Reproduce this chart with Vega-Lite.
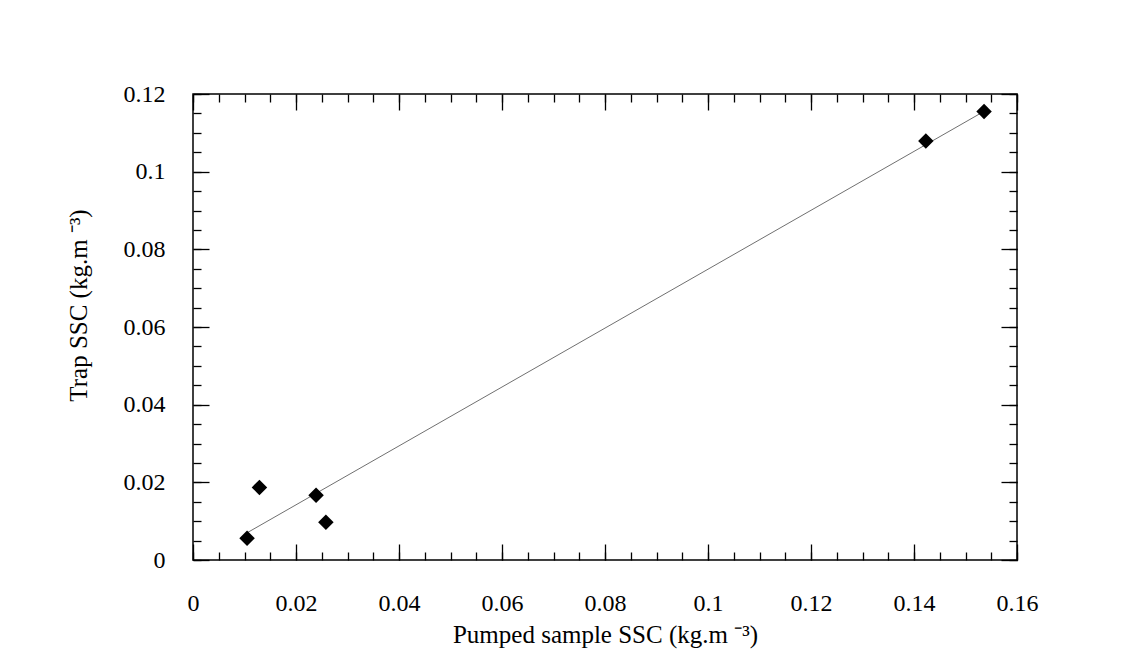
{
  "$schema": "https://vega.github.io/schema/vega-lite/v6.json",
  "width": 824,
  "height": 466,
  "autosize": "none",
  "padding": {"left": 193, "top": 94, "right": 118, "bottom": 112},
  "background": "white",
  "config": {
    "view": {"stroke": "black", "strokeWidth": 1.5},
    "axis": {
      "domain": false,
      "grid": false,
      "tickColor": "black",
      "tickWidth": 1.3,
      "labelFont": "Liberation Serif",
      "labelFontSize": 24,
      "labelColor": "black",
      "titleFont": "Liberation Serif",
      "titleFontSize": 25,
      "titleFontWeight": "normal",
      "titleColor": "black"
    }
  },
  "data": {
    "values": [
      {"x": 0.0105, "y": 0.0056},
      {"x": 0.0129, "y": 0.0187},
      {"x": 0.0239, "y": 0.0167},
      {"x": 0.0258, "y": 0.0097},
      {"x": 0.1423, "y": 0.1079},
      {"x": 0.1536, "y": 0.1155}
    ]
  },
  "resolve": {"axis": {"x": "independent", "y": "independent"}},
  "layer": [
    {
      "mark": {"type": "line", "color": "#707070", "strokeWidth": 1},
      "transform": [{"regression": "y", "on": "x"}],
      "encoding": {
        "x": {
          "field": "x", "type": "quantitative",
          "scale": {"domain": [0, 0.16], "nice": false, "zero": false},
          "axis": {
            "orient": "bottom",
            "values": [0, 0.02, 0.04, 0.06, 0.08, 0.1, 0.12, 0.14, 0.16],
            "format": ".2~f",
            "tickSize": -16,
            "labelPadding": 66,
            "labelBaseline": "alphabetic",
            "labelFlush": false,
            "title": "Pumped sample SSC (kg.m  ⁻³)",
            "titleBaseline": "alphabetic",
            "titleY": 82
          }
        },
        "y": {
          "field": "y", "type": "quantitative",
          "scale": {"domain": [0, 0.12], "nice": false, "zero": false},
          "axis": {
            "orient": "left",
            "values": [0, 0.02, 0.04, 0.06, 0.08, 0.1, 0.12],
            "format": ".2~f",
            "tickSize": -16,
            "labelPadding": 44,
            "labelFlush": false,
            "title": "Trap SSC (kg.m  ⁻³)",
            "titleBaseline": "alphabetic",
            "titleX": -107,
            "titleY": 211
          }
        }
      }
    },
    {
      "mark": {"type": "point", "shape": "diamond", "filled": true, "color": "black", "size": 240, "opacity": 1},
      "encoding": {
        "x": {
          "field": "x", "type": "quantitative",
          "scale": {"domain": [0, 0.16], "nice": false, "zero": false},
          "axis": {
            "orient": "bottom",
            "values": [0, 0.005, 0.01, 0.015, 0.02, 0.025, 0.03, 0.035, 0.04, 0.045, 0.05, 0.055, 0.06, 0.065, 0.07, 0.075, 0.08, 0.085, 0.09, 0.095, 0.1, 0.105, 0.11, 0.115, 0.12, 0.125, 0.13, 0.135, 0.14, 0.145, 0.15, 0.155, 0.16],
            "tickSize": -8,
            "labels": false,
            "title": null
          }
        },
        "y": {
          "field": "y", "type": "quantitative",
          "scale": {"domain": [0, 0.12], "nice": false, "zero": false},
          "axis": {
            "orient": "left",
            "values": [0, 0.005, 0.01, 0.015, 0.02, 0.025, 0.03, 0.035, 0.04, 0.045, 0.05, 0.055, 0.06, 0.065, 0.07, 0.075, 0.08, 0.085, 0.09, 0.095, 0.1, 0.105, 0.11, 0.115, 0.12],
            "tickSize": -8,
            "labels": false,
            "title": null
          }
        }
      }
    },
    {
      "mark": {"type": "point", "opacity": 0},
      "encoding": {
        "x": {
          "field": "x", "type": "quantitative",
          "scale": {"domain": [0, 0.16], "nice": false, "zero": false},
          "axis": {
            "orient": "top",
            "values": [0, 0.02, 0.04, 0.06, 0.08, 0.1, 0.12, 0.14, 0.16],
            "tickSize": -16,
            "labels": false,
            "title": null
          }
        },
        "y": {
          "field": "y", "type": "quantitative",
          "scale": {"domain": [0, 0.12], "nice": false, "zero": false},
          "axis": {
            "orient": "right",
            "values": [0, 0.02, 0.04, 0.06, 0.08, 0.1, 0.12],
            "tickSize": -16,
            "labels": false,
            "title": null
          }
        }
      }
    },
    {
      "mark": {"type": "point", "opacity": 0},
      "encoding": {
        "x": {
          "field": "x", "type": "quantitative",
          "scale": {"domain": [0, 0.16], "nice": false, "zero": false},
          "axis": {
            "orient": "top",
            "values": [0, 0.005, 0.01, 0.015, 0.02, 0.025, 0.03, 0.035, 0.04, 0.045, 0.05, 0.055, 0.06, 0.065, 0.07, 0.075, 0.08, 0.085, 0.09, 0.095, 0.1, 0.105, 0.11, 0.115, 0.12, 0.125, 0.13, 0.135, 0.14, 0.145, 0.15, 0.155, 0.16],
            "tickSize": -8,
            "labels": false,
            "title": null
          }
        },
        "y": {
          "field": "y", "type": "quantitative",
          "scale": {"domain": [0, 0.12], "nice": false, "zero": false},
          "axis": {
            "orient": "right",
            "values": [0, 0.005, 0.01, 0.015, 0.02, 0.025, 0.03, 0.035, 0.04, 0.045, 0.05, 0.055, 0.06, 0.065, 0.07, 0.075, 0.08, 0.085, 0.09, 0.095, 0.1, 0.105, 0.11, 0.115, 0.12],
            "tickSize": -8,
            "labels": false,
            "title": null
          }
        }
      }
    }
  ]
}
